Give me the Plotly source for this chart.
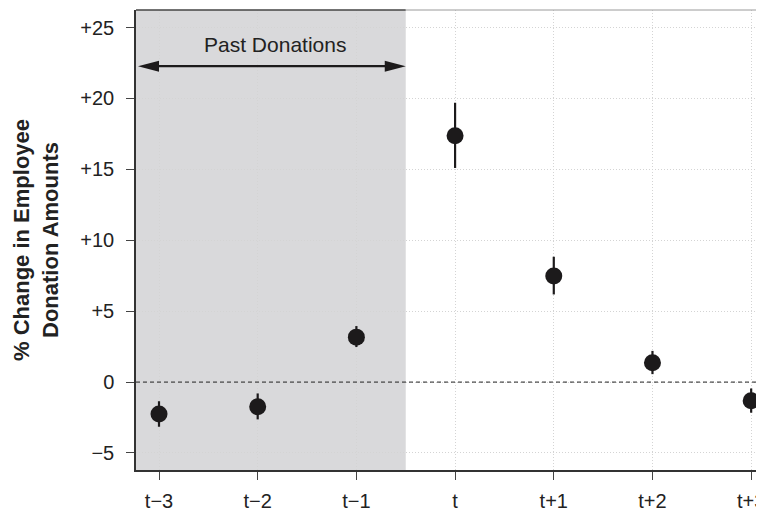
import plotly.graph_objects as go

periods = [-3, -2, -1, 0, 1, 2, 3]
period_labels = ["t\u22123", "t\u22122", "t\u22121", "t", "t+1", "t+2", "t+3"]
estimate = [-2.25, -1.74, 3.17, 17.37, 7.48, 1.36, -1.32]
ci_upper = [-1.35, -0.8, 3.95, 19.7, 8.84, 2.2, -0.45]
ci_lower = [-3.15, -2.63, 2.47, 15.1, 6.18, 0.56, -2.16]
y_tickvals = [-5, 0, 5, 10, 15, 20, 25]
y_ticktext = ["\u22125", "0", "+5", "+10", "+15", "+20", "+25"]

err_plus = [u - e for u, e in zip(ci_upper, estimate)]
err_minus = [e - l for e, l in zip(estimate, ci_lower)]

x_range = [-3.233, 3.13]
y_range = [-6.2, 26.24]
past_end = -0.5
arrow_y = 22.28

ink = "#1c1a1b"
font = "Liberation Sans, Arial, sans-serif"

fig = go.Figure()
fig.add_trace(go.Scatter(
    x=periods, y=estimate, mode="markers",
    marker=dict(size=17, color=ink),
    error_y=dict(type="data", symmetric=False, array=err_plus, arrayminus=err_minus,
                 thickness=2.2, width=0, color=ink),
    showlegend=False,
))

fig.update_layout(
    width=756, height=503,
    margin=dict(l=128, r=0, t=2, b=41, pad=0),
    paper_bgcolor="white", plot_bgcolor="white",
    font=dict(family=font, color="#222222"),
    xaxis=dict(range=x_range, tickvals=periods, ticktext=period_labels,
               showgrid=True, gridcolor="#d4d4d4", griddash="1px,2px", gridwidth=1,
               zeroline=False, showline=True, linecolor="#333333", linewidth=1.5,
               ticks="outside", ticklen=8, tickcolor="#444444", ticklabelstandoff=4,
               ticklabeloverflow="allow",
               tickfont=dict(size=20, family=font, color="#222222")),
    yaxis=dict(range=y_range, tickvals=y_tickvals, ticktext=y_ticktext,
               showgrid=True, gridcolor="#d4d4d4", griddash="1px,2px", gridwidth=1,
               zeroline=False, showline=True, linecolor="#333333", linewidth=1.5,
               ticks="outside", ticklen=8, tickcolor="#444444", ticklabelstandoff=8,
               tickfont=dict(size=20, family=font, color="#222222"),
               title=dict(text="<b>% Change in Employee<br>Donation Amounts</b>",
                          font=dict(size=22, family=font, color="#222222"),
                          standoff=16)),
    shapes=[
        dict(type="rect", xref="x", yref="paper", x0=x_range[0], x1=past_end, y0=0, y1=1,
             fillcolor="#d9d9db", line=dict(width=0), layer="below"),
        dict(type="line", xref="x", yref="paper", x0=x_range[0], x1=past_end, y0=1, y1=1,
             line=dict(color="#444444", width=1.5)),
        dict(type="line", xref="x", yref="paper", x0=past_end, x1=x_range[1], y0=1, y1=1,
             line=dict(color="#9a9a9a", width=1)),
        dict(type="line", xref="paper", yref="y", x0=0, x1=1, y0=0, y1=0,
             line=dict(color="#222222", width=1, dash="4px,3px")),
        # double-headed arrow
        dict(type="line", xref="x", yref="y", x0=x_range[0] + 0.1, x1=past_end - 0.1,
             y0=arrow_y, y1=arrow_y, line=dict(color=ink, width=2.4)),
        dict(type="path", xref="x", yref="y", xsizemode="pixel", ysizemode="pixel",
             xanchor=x_range[0], yanchor=arrow_y,
             path="M2,0 L23,5.5 L23,-5.5 Z", fillcolor=ink, line=dict(width=0)),
        dict(type="path", xref="x", yref="y", xsizemode="pixel", ysizemode="pixel",
             xanchor=past_end, yanchor=arrow_y,
             path="M0,0 L-21,5.5 L-21,-5.5 Z", fillcolor=ink, line=dict(width=0)),
    ],
    annotations=[
        dict(x=-1.825, y=23.8, xref="x", yref="y", text="Past Donations", showarrow=False,
             font=dict(size=21, family=font, color="#222222")),
    ],
)

fig.write_html("out.html")
